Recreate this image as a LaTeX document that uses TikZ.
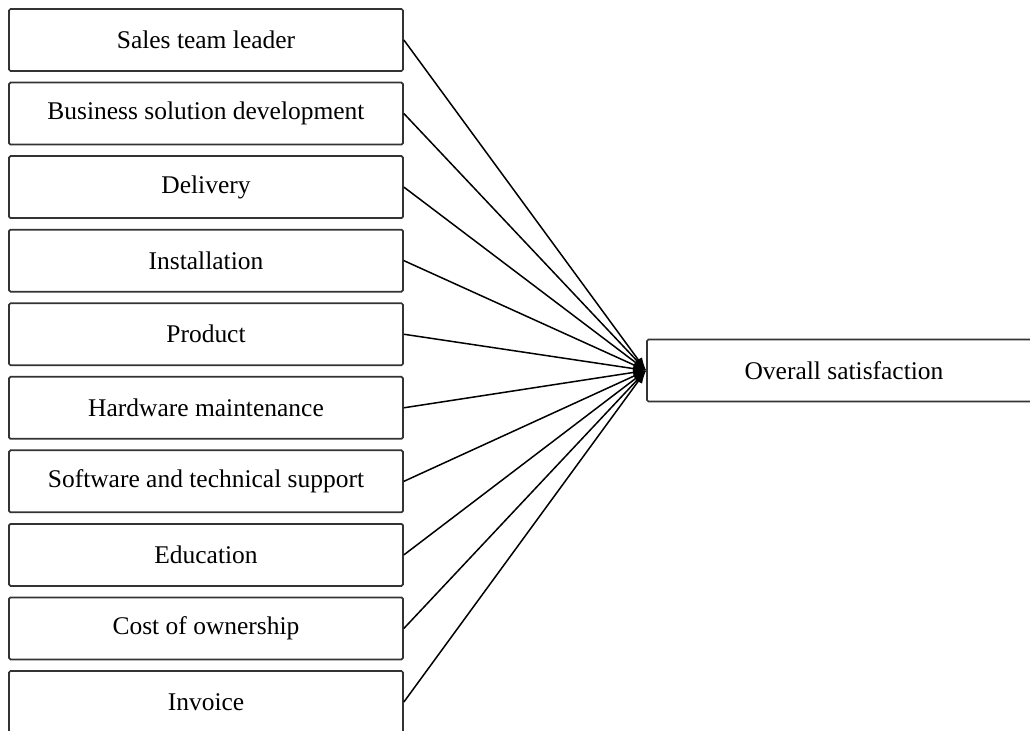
\documentclass[tikz,border=0pt]{standalone}
\usepackage{fontspec}
\setmainfont{Liberation Serif}
\usetikzlibrary{arrows.meta}

\begin{document}
\begin{tikzpicture}[
		factor/.style={draw=black!80, rounded corners=0.3mm, minimum width=7.88cm, minimum height=1.24cm, line width=0.35mm, font=\fontsize{14.5}{17}\selectfont},
		link/.style={-{Latex[length=2.6mm,width=1.8mm]}, line width=0.3mm}]
		\useasboundingbox (0,0) rectangle (20.6,-14.62);
		\clip (0,0) rectangle (20.6,-14.62);

		\node[factor] (sales) at (4.12,-0.80) {Sales team leader};
		\node[factor] (business) at (4.12,-2.271) {Business solution development};
		\node[factor] (delivery) at (4.12,-3.742) {Delivery};
		\node[factor] (install) at (4.12,-5.213) {Installation};
		\node[factor] (product) at (4.12,-6.685) {Product};
		\node[factor] (hardware) at (4.12,-8.156) {Hardware maintenance};
		\node[factor] (software) at (4.12,-9.627) {Software and technical support};
		\node[factor] (education) at (4.12,-11.098) {Education};
		\node[factor] (cost) at (4.12,-12.569) {Cost of ownership};
		\node[factor] (invoice) at (4.12,-14.04) {Invoice};

		\node[factor] (overall) at (16.88,-7.41) {Overall satisfaction};

		\draw[link] (sales.east) -- (overall.west);
		\draw[link] (business.east) -- (overall.west);
		\draw[link] (delivery.east) -- (overall.west);
		\draw[link] (install.east) -- (overall.west);
		\draw[link] (product.east) -- (overall.west);
		\draw[link] (hardware.east) -- (overall.west);
		\draw[link] (software.east) -- (overall.west);
		\draw[link] (education.east) -- (overall.west);
		\draw[link] (cost.east) -- (overall.west);
		\draw[link] (invoice.east) -- (overall.west);
	\end{tikzpicture}
\end{document}
